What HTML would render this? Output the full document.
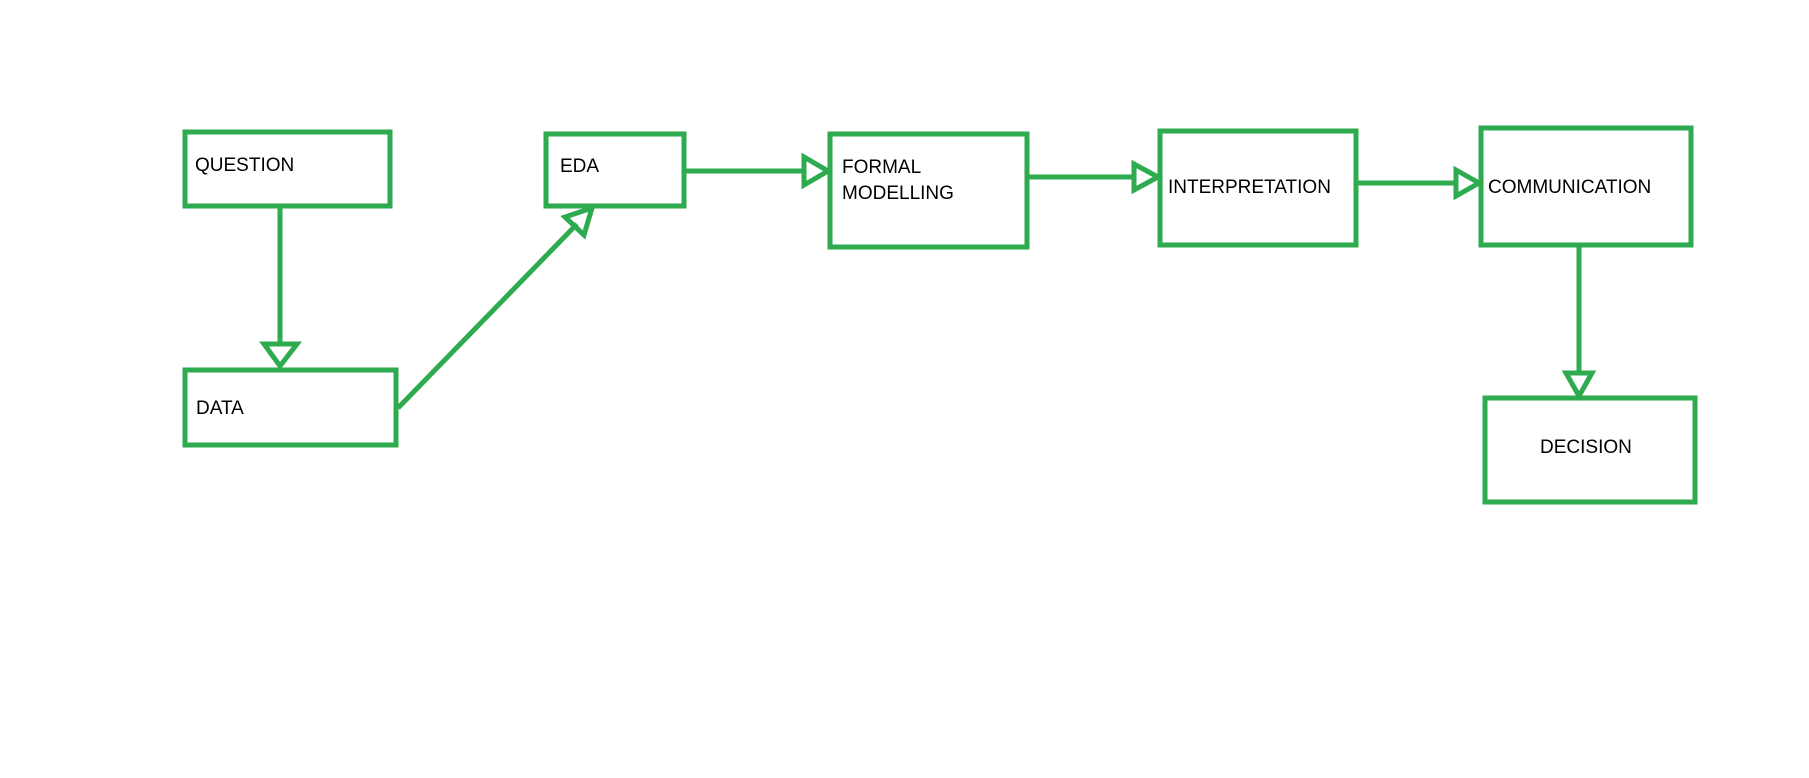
<!DOCTYPE html>
<html><head><style>
html,body{margin:0;padding:0;background:#fff;}
svg{display:block;}
text{font-family:"Liberation Sans",sans-serif;font-size:19px;fill:#000;}
</style></head><body>
<svg width="1809" height="778" viewBox="0 0 1809 778" xmlns="http://www.w3.org/2000/svg">
<g fill="none" stroke="#2eaa4f" stroke-width="5">
<rect x="185" y="132" width="205" height="74"/>
<rect x="185" y="370" width="211" height="75"/>
<rect x="546" y="134" width="138" height="72"/>
<rect x="830" y="134" width="197" height="113"/>
<rect x="1160" y="131" width="196" height="114"/>
<rect x="1481" y="128" width="210" height="117"/>
<rect x="1485" y="398" width="210" height="104"/>
<line x1="280" y1="206" x2="280" y2="345"/>
<polygon points="264,344 297,344 280,366" stroke-linejoin="miter"/>
<line x1="398" y1="408" x2="577" y2="224"/>
<polygon points="592,208 565,217 584,235"/>
<line x1="684" y1="171" x2="804" y2="171"/>
<polygon points="804,157 804,185 828,171"/>
<line x1="1027" y1="177" x2="1134" y2="177"/>
<polygon points="1134,164 1134,190 1158,177"/>
<line x1="1356" y1="183" x2="1456" y2="183"/>
<polygon points="1456,170 1456,196 1479,183"/>
<line x1="1579" y1="245" x2="1579" y2="374"/>
<polygon points="1566,373 1592,373 1579,396"/>
</g>
<text x="195" y="171">QUESTION</text>
<text x="196" y="414">DATA</text>
<text x="560" y="172">EDA</text>
<text x="842" y="173">FORMAL</text>
<text x="842" y="199">MODELLING</text>
<text x="1168" y="193">INTERPRETATION</text>
<text x="1488" y="193">COMMUNICATION</text>
<text x="1540" y="453">DECISION</text>
</svg>
</body></html>
